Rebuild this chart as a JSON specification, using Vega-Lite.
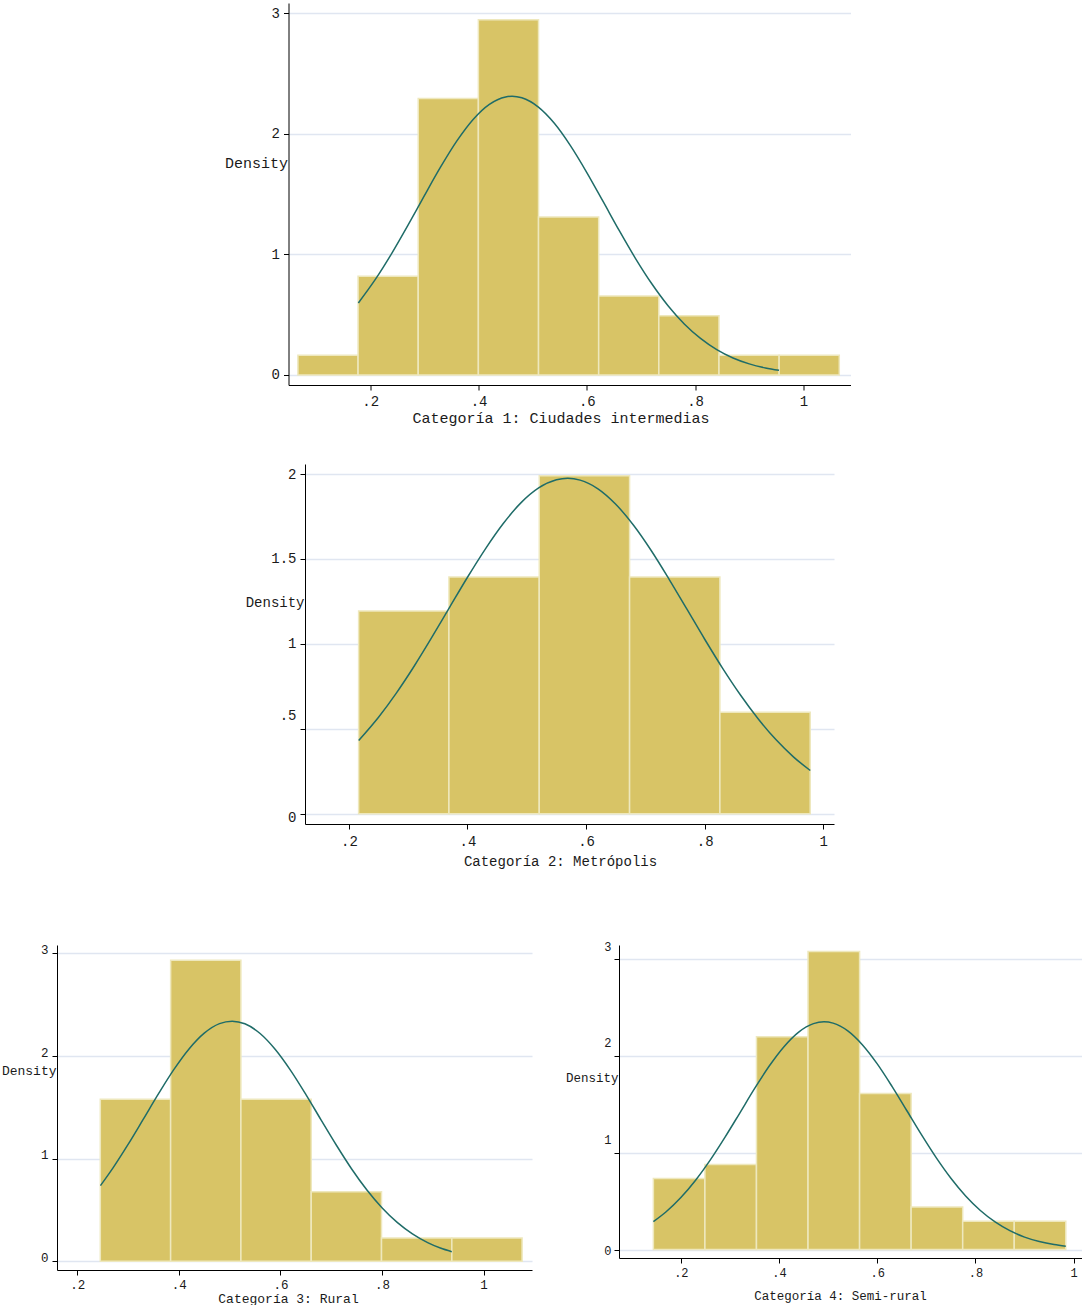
{
  "$schema": "https://vega.github.io/schema/vega-lite/v6.json",
  "padding": {"left": 1, "top": 3, "right": 0, "bottom": 0},
  "background": "white",
  "config": {
    "view": {"stroke": null},
    "axis": {
      "domainColor": "#000000", "domainWidth": 1, "tickColor": "#000000", "tickWidth": 1, "tickSize": 5,
      "labelColor": "#1a1a1a", "titleColor": "#1a1a1a", "labelFont": "Liberation Mono", "titleFont": "Liberation Mono",
      "titleFontWeight": "normal", "labelOverlap": false, "labelFlush": false, "gridColor": "#e0e6f1", "gridWidth": 1.6
    }
  },
  "datasets": {
    "h1": [
      {"lo": 0.0664, "hi": 0.1775, "density": 0.164},
      {"lo": 0.1775, "hi": 0.2886, "density": 0.818},
      {"lo": 0.2886, "hi": 0.3997, "density": 2.291},
      {"lo": 0.3997, "hi": 0.5108, "density": 2.945},
      {"lo": 0.5108, "hi": 0.6219, "density": 1.309},
      {"lo": 0.6219, "hi": 0.733, "density": 0.655},
      {"lo": 0.733, "hi": 0.8441, "density": 0.491},
      {"lo": 0.8441, "hi": 0.9552, "density": 0.164},
      {"lo": 0.9552, "hi": 1.0663, "density": 0.164}
    ],
    "n1": [
      {"x": 0.178, "density": 0.597}, {"x": 0.21, "density": 0.796}, {"x": 0.24, "density": 1.01}, {"x": 0.27, "density": 1.244},
      {"x": 0.3, "density": 1.487}, {"x": 0.33, "density": 1.724}, {"x": 0.36, "density": 1.94}, {"x": 0.39, "density": 2.118},
      {"x": 0.42, "density": 2.243}, {"x": 0.45, "density": 2.304}, {"x": 0.462, "density": 2.31}, {"x": 0.48, "density": 2.297},
      {"x": 0.51, "density": 2.222}, {"x": 0.54, "density": 2.086}, {"x": 0.57, "density": 1.899}, {"x": 0.6, "density": 1.678},
      {"x": 0.63, "density": 1.438}, {"x": 0.66, "density": 1.196}, {"x": 0.69, "density": 0.965}, {"x": 0.72, "density": 0.756},
      {"x": 0.75, "density": 0.574}, {"x": 0.78, "density": 0.423}, {"x": 0.81, "density": 0.303}, {"x": 0.84, "density": 0.21},
      {"x": 0.87, "density": 0.141}, {"x": 0.9, "density": 0.0923}, {"x": 0.93, "density": 0.0585}, {"x": 0.955, "density": 0.0391}
    ],
    "h2": [
      {"lo": 0.2164, "hi": 0.3687, "density": 1.194},
      {"lo": 0.3687, "hi": 0.521, "density": 1.393},
      {"lo": 0.521, "hi": 0.6733, "density": 1.99},
      {"lo": 0.6733, "hi": 0.8256, "density": 1.393},
      {"lo": 0.8256, "hi": 0.9779, "density": 0.597}
    ],
    "n2": [
      {"x": 0.2165, "density": 0.431}, {"x": 0.25, "density": 0.568}, {"x": 0.28, "density": 0.71}, {"x": 0.31, "density": 0.868},
      {"x": 0.34, "density": 1.039}, {"x": 0.37, "density": 1.216}, {"x": 0.4, "density": 1.392}, {"x": 0.43, "density": 1.558},
      {"x": 0.46, "density": 1.707}, {"x": 0.49, "density": 1.83}, {"x": 0.52, "density": 1.918}, {"x": 0.55, "density": 1.966},
      {"x": 0.569, "density": 1.975}, {"x": 0.59, "density": 1.964}, {"x": 0.62, "density": 1.913}, {"x": 0.65, "density": 1.822},
      {"x": 0.68, "density": 1.698}, {"x": 0.71, "density": 1.548}, {"x": 0.74, "density": 1.38}, {"x": 0.77, "density": 1.204},
      {"x": 0.8, "density": 1.027}, {"x": 0.83, "density": 0.857}, {"x": 0.86, "density": 0.7}, {"x": 0.89, "density": 0.559},
      {"x": 0.92, "density": 0.436}, {"x": 0.95, "density": 0.333}, {"x": 0.978, "density": 0.254}
    ],
    "h3": [
      {"lo": 0.2453, "hi": 0.3838, "density": 1.58},
      {"lo": 0.3838, "hi": 0.5222, "density": 2.934},
      {"lo": 0.5222, "hi": 0.6607, "density": 1.58},
      {"lo": 0.6607, "hi": 0.7991, "density": 0.677},
      {"lo": 0.7991, "hi": 0.9376, "density": 0.226},
      {"lo": 0.9376, "hi": 1.076, "density": 0.226}
    ],
    "n3": [
      {"x": 0.2455, "density": 0.737}, {"x": 0.27, "density": 0.908}, {"x": 0.3, "density": 1.139}, {"x": 0.33, "density": 1.385},
      {"x": 0.36, "density": 1.633}, {"x": 0.39, "density": 1.867}, {"x": 0.42, "density": 2.069}, {"x": 0.45, "density": 2.223},
      {"x": 0.48, "density": 2.316}, {"x": 0.505, "density": 2.34}, {"x": 0.53, "density": 2.314}, {"x": 0.56, "density": 2.22},
      {"x": 0.59, "density": 2.064}, {"x": 0.62, "density": 1.861}, {"x": 0.65, "density": 1.627}, {"x": 0.68, "density": 1.378},
      {"x": 0.71, "density": 1.133}, {"x": 0.74, "density": 0.902}, {"x": 0.77, "density": 0.697}, {"x": 0.8, "density": 0.522},
      {"x": 0.83, "density": 0.379}, {"x": 0.86, "density": 0.267}, {"x": 0.89, "density": 0.182}, {"x": 0.915, "density": 0.129},
      {"x": 0.9375, "density": 0.0932}
    ],
    "h4": [
      {"lo": 0.144, "hi": 0.249, "density": 0.733},
      {"lo": 0.249, "hi": 0.354, "density": 0.879},
      {"lo": 0.354, "hi": 0.459, "density": 2.198},
      {"lo": 0.459, "hi": 0.564, "density": 3.077},
      {"lo": 0.564, "hi": 0.669, "density": 1.612},
      {"lo": 0.669, "hi": 0.774, "density": 0.44},
      {"lo": 0.774, "hi": 0.879, "density": 0.293},
      {"lo": 0.879, "hi": 0.984, "density": 0.293}
    ],
    "n4": [
      {"x": 0.144, "density": 0.288}, {"x": 0.17, "density": 0.39}, {"x": 0.2, "density": 0.537}, {"x": 0.23, "density": 0.716},
      {"x": 0.26, "density": 0.926}, {"x": 0.29, "density": 1.161}, {"x": 0.32, "density": 1.41}, {"x": 0.35, "density": 1.661},
      {"x": 0.38, "density": 1.895}, {"x": 0.41, "density": 2.095}, {"x": 0.44, "density": 2.246}, {"x": 0.47, "density": 2.333},
      {"x": 0.4915, "density": 2.352}, {"x": 0.51, "density": 2.338}, {"x": 0.54, "density": 2.258}, {"x": 0.57, "density": 2.113},
      {"x": 0.6, "density": 1.917}, {"x": 0.63, "density": 1.685}, {"x": 0.66, "density": 1.436}, {"x": 0.69, "density": 1.186},
      {"x": 0.72, "density": 0.949}, {"x": 0.75, "density": 0.736}, {"x": 0.78, "density": 0.553}, {"x": 0.81, "density": 0.403},
      {"x": 0.84, "density": 0.285}, {"x": 0.87, "density": 0.195}, {"x": 0.9, "density": 0.129}, {"x": 0.93, "density": 0.0831},
      {"x": 0.96, "density": 0.0518}, {"x": 0.984, "density": 0.0347}
    ]
  },
  "vconcat": [
    {
      "width": 562, "height": 382,
      "layer": [
        {
          "data": {"name": "h1"},
          "mark": {"type": "rect", "fill": "#d8c466", "stroke": "#eee8bd", "strokeWidth": 1.5},
          "encoding": {
            "x": {"field": "lo", "type": "quantitative",
              "scale": {"domain": [0.049, 1.087], "nice": false, "zero": false},
              "axis": {"title": "Categoría 1: Ciudades intermedias", "values": [0.2, 0.4, 0.6, 0.8, 1], "format": ".1~f",
                "labelExpr": "replace(datum.label, '0.', '.')", "grid": false, "labelFontSize": 14, "titleFontSize": 15,
                "labelPadding": 4, "titleX": 272, "titleY": 32, "titleAlign": "center", "titleBaseline": "middle"}},
            "x2": {"field": "hi"},
            "y": {"field": "density", "type": "quantitative",
              "scale": {"domain": [-0.083, 3.083], "nice": false, "zero": false},
              "axis": {"title": "Density", "values": [0, 1, 2, 3], "format": ".1~f", "grid": true, "labelFontSize": 14, "titleFontSize": 15,
                "labelPadding": 4, "titleAngle": 0, "titleAlign": "right", "titleBaseline": "middle", "titleX": -1, "titleY": 159}},
            "y2": {"datum": 0}
          }
        },
        {
          "data": {"name": "n1"},
          "mark": {"type": "line", "color": "#1f6c68", "strokeWidth": 1.5, "interpolate": "monotone"},
          "encoding": {
            "x": {"field": "x", "type": "quantitative", "title": "Categoría 1: Ciudades intermedias"},
            "y": {"field": "density", "type": "quantitative", "title": "Density"}
          }
        }
      ]
    },
    {
      "width": 529, "height": 360,
      "layer": [
        {
          "data": {"name": "h2"},
          "mark": {"type": "rect", "fill": "#d8c466", "stroke": "#eee8bd", "strokeWidth": 1.5},
          "encoding": {
            "x": {"field": "lo", "type": "quantitative",
              "scale": {"domain": [0.126, 1.018], "nice": false, "zero": false},
              "axis": {"title": ["Categoría 2: Metrópolis", " "], "values": [0.2, 0.4, 0.6, 0.8, 1], "format": ".1~f",
                "labelExpr": "replace(datum.label, '0.', '.')", "grid": false, "labelFontSize": 14, "titleFontSize": 14,
                "labelPadding": 5, "titleX": 255, "titleY": 30, "titleAlign": "center", "titleBaseline": "top", "titleLineHeight": 33}},
            "x2": {"field": "hi"},
            "y": {"field": "density", "type": "quantitative",
              "scale": {"domain": [-0.061, 2.059], "nice": false, "zero": false},
              "axis": {"title": "Density", "values": [0, 0.5, 1, 1.5, 2], "format": ".1~f",
                "labelExpr": "replace(datum.label, '0.', '.')", "grid": true, "labelFontSize": 14, "titleFontSize": 14,
                "labelOffset": {"condition": [{"test": "datum.value == 0.5", "value": -13}, {"test": "datum.value == 0", "value": 4}], "value": 0},
                "labelPadding": 4, "titleAngle": 0, "titleAlign": "right", "titleBaseline": "middle", "titleX": -1, "titleY": 138}},
            "y2": {"datum": 0}
          }
        },
        {
          "data": {"name": "n2"},
          "mark": {"type": "line", "color": "#1f6c68", "strokeWidth": 1.5, "interpolate": "monotone"},
          "encoding": {
            "x": {"field": "x", "type": "quantitative", "title": ["Categoría 2: Metrópolis", " "]},
            "y": {"field": "density", "type": "quantitative", "title": "Density"}
          }
        }
      ]
    },
    {
      "spacing": 33,
      "hconcat": [
        {
          "width": 475, "height": 325,
          "layer": [
            {
              "data": {"name": "h3"},
              "mark": {"type": "rect", "fill": "#d8c466", "stroke": "#eee8bd", "strokeWidth": 1.5},
              "encoding": {
                "x": {"field": "lo", "type": "quantitative",
                  "scale": {"domain": [0.16, 1.0955], "nice": false, "zero": false},
                  "axis": {"title": "Categoría 3: Rural", "values": [0.2, 0.4, 0.6, 0.8, 1], "format": ".1~f",
                    "labelExpr": "replace(datum.label, '0.', '.')", "grid": false, "labelFontSize": 12.5, "titleFontSize": 13,
                    "labelPadding": 3, "titleX": 231, "titleY": 28, "titleAlign": "center", "titleBaseline": "middle"}},
                "x2": {"field": "hi"},
                "y": {"field": "density", "type": "quantitative",
                  "scale": {"domain": [-0.085, 3.082], "nice": false, "zero": false},
                  "axis": {"title": "Density", "values": [0, 1, 2, 3], "format": ".1~f", "grid": true, "labelFontSize": 12.5, "titleFontSize": 13,
                    "labelOffset": -4, "labelPadding": 4, "titleAngle": 0, "titleAlign": "right", "titleBaseline": "middle", "titleX": -1, "titleY": 125}},
                "y2": {"datum": 0}
              }
            },
            {
              "data": {"name": "n3"},
              "mark": {"type": "line", "color": "#1f6c68", "strokeWidth": 1.5, "interpolate": "monotone"},
              "encoding": {
                "x": {"field": "x", "type": "quantitative", "title": "Categoría 3: Rural"},
                "y": {"field": "density", "type": "quantitative", "title": "Density"}
              }
            }
          ]
        },
        {
          "width": 463, "height": 313,
          "layer": [
            {
              "data": {"name": "h4"},
              "mark": {"type": "rect", "fill": "#d8c466", "stroke": "#eee8bd", "strokeWidth": 1.5},
              "encoding": {
                "x": {"field": "lo", "type": "quantitative",
                  "scale": {"domain": [0.074, 1.017], "nice": false, "zero": false},
                  "axis": {"title": "Categoría 4: Semi-rural", "values": [0.2, 0.4, 0.6, 0.8, 1], "format": ".1~f",
                    "labelExpr": "replace(datum.label, '0.', '.')", "grid": false, "labelFontSize": 12, "titleFontSize": 12.5,
                    "labelPadding": 4, "titleX": 221, "titleY": 37, "titleAlign": "center", "titleBaseline": "middle"}},
                "x2": {"field": "hi"},
                "y": {"field": "density", "type": "quantitative",
                  "scale": {"domain": [-0.087, 3.145], "nice": false, "zero": false},
                  "axis": {"title": "Density", "values": [0, 1, 2, 3], "format": ".1~f", "grid": true, "labelFontSize": 12, "titleFontSize": 12.5,
                    "labelOffset": {"condition": {"test": "datum.value == 0", "value": 1}, "value": -13},
                    "labelPadding": 3, "titleAngle": 0, "titleAlign": "right", "titleBaseline": "middle", "titleX": -1, "titleY": 132}},
                "y2": {"datum": 0}
              }
            },
            {
              "data": {"name": "n4"},
              "mark": {"type": "line", "color": "#1f6c68", "strokeWidth": 1.5, "interpolate": "monotone"},
              "encoding": {
                "x": {"field": "x", "type": "quantitative", "title": "Categoría 4: Semi-rural"},
                "y": {"field": "density", "type": "quantitative", "title": "Density"}
              }
            }
          ]
        }
      ]
    }
  ],
  "spacing": 39,
  "center": true
}
